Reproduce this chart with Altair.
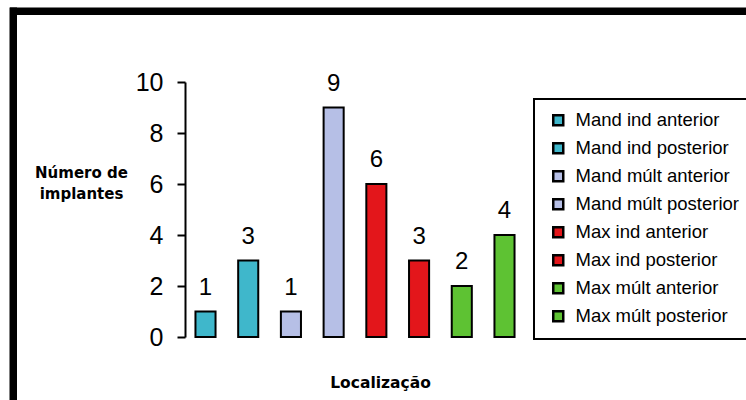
import altair as alt
import pandas as pd

categories = [
    "Mand ind anterior", "Mand ind posterior", "Mand múlt anterior", "Mand múlt posterior",
    "Max ind anterior", "Max ind posterior", "Max múlt anterior", "Max múlt posterior",
]
values = [1, 3, 1, 9, 6, 3, 2, 4]
colors = ["#3fb7cb", "#3fb7cb", "#b6bfe6", "#b6bfe6", "#e3161b", "#e3161b", "#5ec233", "#5ec233"]
y_ticks = [0, 2, 4, 6, 8, 10]

df = pd.DataFrame({"cat": categories, "val": values})

FONT = "Liberation Sans"
BOLD_FONT = "DejaVu Sans"

x_enc = alt.X(
    "cat:N", sort=categories,
    scale=alt.Scale(paddingInner=0.53, paddingOuter=0.245),
    axis=alt.Axis(labels=False, ticks=False, domain=False, title="Localização",
                  titleFont=BOLD_FONT, titleFontSize=15.5, titleFontWeight="bold", titleColor="black",
                  titleX=195, titleY=50, titleAlign="center", titleBaseline="alphabetic"),
)
y_enc = alt.Y(
    "val:Q", scale=alt.Scale(domain=[0, 10], nice=False),
    axis=alt.Axis(values=y_ticks, grid=False, domainColor="black", domainWidth=2,
                  tickColor="black", tickWidth=2, tickSize=8,
                  labelFont=FONT, labelFontSize=25, labelColor="black", labelPadding=14,
                  title=["Número de", "implantes"], titleFont=BOLD_FONT, titleFontSize=15,
                  titleFontWeight="bold", titleColor="black", titleAngle=0,
                  titleX=-104, titleY=95, titleAlign="center", titleBaseline="alphabetic",
                  titleLineHeight=21),
)

bars = alt.Chart(df).mark_bar(stroke="black", strokeWidth=2).encode(
    x=x_enc,
    y=y_enc,
    color=alt.Color(
        "cat:N", sort=categories,
        scale=alt.Scale(domain=categories, range=colors),
        legend=alt.Legend(
            title=None, orient="none", legendX=349, legendY=17,
            strokeColor="black", padding=12, fillColor="white",
            symbolType="square", symbolSize=100, symbolStrokeColor="black",
            symbolStrokeWidth=2.5, symbolOffset=3, labelOffset=8,
            labelFont=FONT, labelFontSize=18.5, labelColor="black",
            labelLimit=400,
        ),
    ),
)

labels = alt.Chart(df).mark_text(
    font=FONT, fontSize=24, color="black", baseline="alphabetic", dy=-17
).encode(x=alt.X("cat:N", sort=categories), y="val:Q", text="val:Q")

frame_data = alt.Data(values=[{"k": 1}])
top_rule = alt.Chart(frame_data).mark_rule(color="black", strokeWidth=7.5, strokeCap="butt").encode(
    x=alt.value(-175), x2=alt.value(561), y=alt.value(-70.75)
)
left_rule = alt.Chart(frame_data).mark_rule(color="black", strokeWidth=7.5, strokeCap="butt").encode(
    x=alt.value(-171.75), y=alt.value(-74.5), y2=alt.value(318)
)

chart = alt.layer(bars, labels, top_rule, left_rule).properties(
    width=340, height=255,
    autosize=alt.AutoSizeParams(type="none"),
    padding={"left": 185, "top": 82, "right": 221, "bottom": 63},
    background="white",
).configure_view(stroke=None).configure_legend(strokeWidth=2, rowPadding=7)

chart.save("out.html", embed_options={"renderer": "svg", "actions": False})
